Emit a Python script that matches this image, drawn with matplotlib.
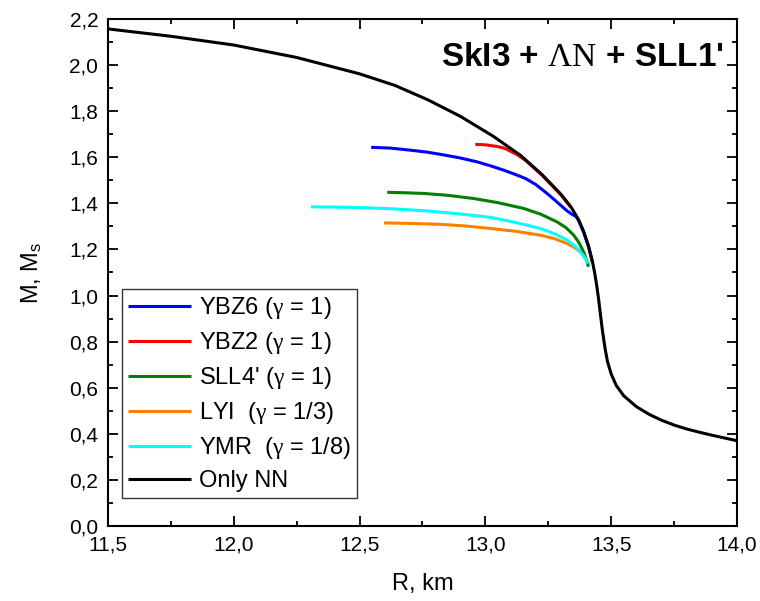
import matplotlib.pyplot as plt
from matplotlib.ticker import MultipleLocator, FuncFormatter

plt.rcParams['font.family'] = ['Liberation Sans', 'DejaVu Sans']
plt.rcParams['mathtext.fontset'] = 'custom'
plt.rcParams['mathtext.rm'] = 'Liberation Serif'
plt.rcParams['mathtext.it'] = 'Liberation Serif'
plt.rcParams['mathtext.sf'] = 'Liberation Sans'

# Mass-radius curves, R in km, M in solar masses
r_nn = [11.50, 11.75, 12.00, 12.25, 12.50, 12.64, 12.77, 12.90, 13.03, 13.14,
        13.225, 13.30, 13.34, 13.37, 13.39, 13.41, 13.425, 13.435, 13.443,
        13.45, 13.458, 13.465, 13.475, 13.485, 13.50, 13.52, 13.55, 13.60,
        13.65, 13.70, 13.75, 13.80, 13.85, 13.90, 13.95, 14.00]
m_nn = [2.157, 2.125, 2.087, 2.033, 1.962, 1.912, 1.850, 1.778, 1.692, 1.608,
        1.525, 1.440, 1.385, 1.330, 1.280, 1.215, 1.150, 1.095, 1.040,
        0.985, 0.912, 0.850, 0.775, 0.715, 0.660, 0.610, 0.565, 0.518,
        0.485, 0.459, 0.438, 0.421, 0.407, 0.394, 0.382, 0.370]

r_ybz6 = [12.546, 12.62, 12.70, 12.77, 12.835, 12.90, 12.967, 13.02, 13.073,
          13.12, 13.159, 13.20, 13.245, 13.275, 13.298, 13.324, 13.345, 13.36,
          13.37, 13.39, 13.41, 13.425]
m_ybz6 = [1.643, 1.640, 1.631, 1.622, 1.610, 1.597, 1.580, 1.563, 1.544,
          1.525, 1.508, 1.482, 1.443, 1.415, 1.393, 1.368, 1.352, 1.343,
          1.326, 1.276, 1.211, 1.146]

r_ybz2 = [12.96, 13.00, 13.046, 13.07, 13.086, 13.105, 13.125, 13.16, 13.225,
          13.30, 13.34]
m_ybz2 = [1.656, 1.654, 1.647, 1.641, 1.634, 1.623, 1.612, 1.586, 1.522,
          1.437, 1.382]

r_sll4 = [12.61, 12.68, 12.755, 12.85, 12.954, 13.05, 13.152, 13.22, 13.284,
          13.32, 13.351, 13.372, 13.39, 13.40, 13.41]
m_sll4 = [1.448, 1.446, 1.443, 1.435, 1.421, 1.403, 1.378, 1.353, 1.320,
          1.295, 1.262, 1.230, 1.190, 1.160, 1.125]

r_lyi = [12.597, 12.70, 12.821, 12.92, 13.02, 13.12, 13.218, 13.275, 13.324,
         13.355, 13.377, 13.393, 13.403, 13.41]
m_lyi = [1.315, 1.313, 1.309, 1.302, 1.291, 1.279, 1.262, 1.247, 1.226,
         1.208, 1.190, 1.170, 1.154, 1.140]

r_ymr = [12.306, 12.40, 12.491, 12.62, 12.755, 12.89, 13.021, 13.12, 13.218,
         13.275, 13.324, 13.355, 13.377, 13.395, 13.408]
m_ymr = [1.385, 1.384, 1.382, 1.377, 1.368, 1.355, 1.339, 1.317, 1.291,
         1.268, 1.241, 1.215, 1.190, 1.163, 1.140]

labels = [r'YBZ6 ($\gamma$ = 1)', r'YBZ2 ($\gamma$ = 1)', r"SLL4' ($\gamma$ = 1)",
          r'LYI  ($\gamma$ = 1/3)', r'YMR  ($\gamma$ = 1/8)', 'Only NN']
colors = ['#0000ff', '#ff0000', '#007f00', '#ff7f00', '#00ffff', '#000000']

fig = plt.figure(figsize=(7.6, 6.01), dpi=100)
ax = fig.add_axes([0.1421, 0.1248, 0.8276, 0.8436])

series = [(r_ybz6, m_ybz6), (r_ybz2, m_ybz2), (r_sll4, m_sll4),
          (r_lyi, m_lyi), (r_ymr, m_ymr), (r_nn, m_nn)]
for (r, m), lab, c in zip(series, labels, colors):
    ax.plot(r, m, color=c, lw=2.2, label=lab, solid_capstyle='butt')

ax.set_xlim(11.5, 14.0)
ax.set_ylim(0.0, 2.2)
ax.xaxis.set_major_locator(MultipleLocator(0.5))
ax.xaxis.set_minor_locator(MultipleLocator(0.25))
ax.yaxis.set_major_locator(MultipleLocator(0.2))
ax.yaxis.set_minor_locator(MultipleLocator(0.1))
comma = FuncFormatter(lambda v, p: f'{v:.1f}'.replace('.', ','))
ax.xaxis.set_major_formatter(comma)
ax.yaxis.set_major_formatter(comma)

ax.tick_params(which='both', direction='in', top=True, right=True, width=1.3,
               labelsize=15, pad=7)
ax.tick_params(which='major', length=7)
ax.tick_params(which='minor', length=3.5)
for s in ax.spines.values():
    s.set_linewidth(1.5)

ax.set_xlabel('R, km', fontsize=17, labelpad=13)
ax.set_ylabel(r'M, M$_\mathsf{s}$', fontsize=17, labelpad=18)

ax.text(0.979, 0.925, r"SkI3 + $\Lambda\mathrm{N}$ + SLL1'", transform=ax.transAxes,
        ha='right', va='center', fontsize=24, fontweight='bold')

leg = ax.legend(loc='lower left', bbox_to_anchor=(0.022, 0.055), borderaxespad=0,
                fontsize=17, frameon=True, fancybox=False, edgecolor='black',
                handlelength=2.7, handletextpad=0.3, labelspacing=0.38,
                borderpad=0.25)
leg.get_frame().set_linewidth(1.0)

fig.savefig('out.png', dpi=100)
